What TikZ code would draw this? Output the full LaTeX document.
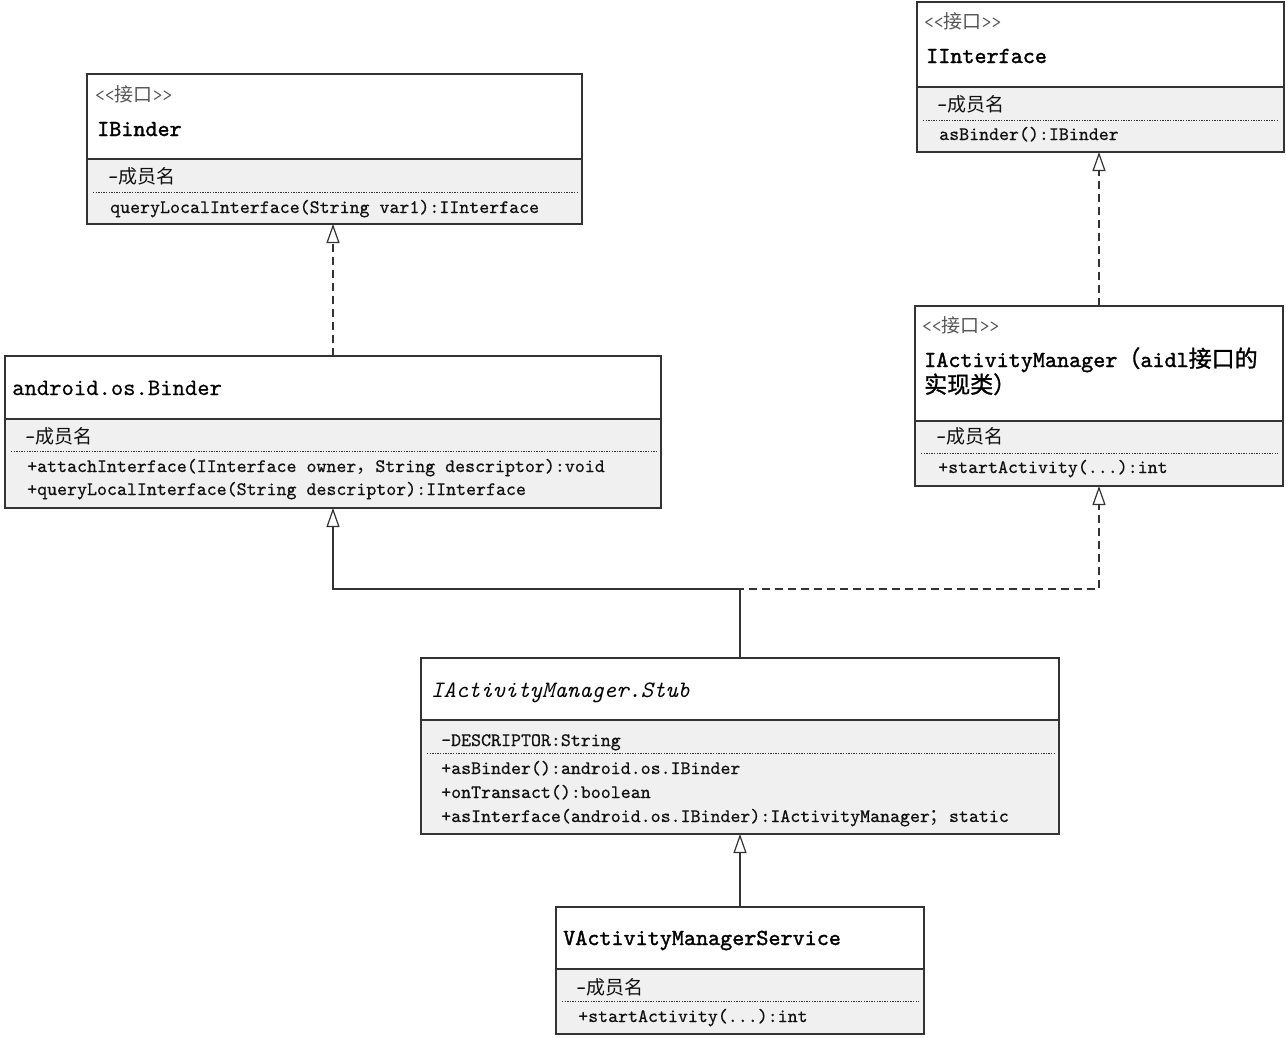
\documentclass[tikz,border=0pt]{standalone}
\usepackage{fontspec}
\usetikzlibrary{arrows.meta}
\newfontfamily\cjk{Noto Sans CJK SC}
\newfontfamily\cjkb{Noto Sans CJK SC}[FakeBold=1.2]
\newfontfamily\ttbold{lmmono10-regular.otf}[FakeBold=1.4]
\newfontfamily\ttmem{lmmono10-regular.otf}[FakeBold=0.5]
\newfontfamily\ttreg{lmmono10-regular.otf}[FakeBold=0.4]
\definecolor{boxgray}{HTML}{F0F0F0}
\definecolor{linecol}{HTML}{333333}
\definecolor{txtcol}{HTML}{111111}
\definecolor{stereo}{HTML}{555555}
\tikzset{
  x=1pt, y=1pt,
  boxnode/.style={fill=boxgray, inner sep=0pt, outer sep=0pt, anchor=north west, draw=none},
  boxline/.style={draw=linecol, line width=1.2pt},
  dotsep/.style={draw=linecol, line width=0.8pt, dash pattern=on 1.4pt off 1.2pt},
  member/.style={anchor=base west, inner sep=0pt, text=txtcol, font=\ttmem\fontsize{19}{22}\selectfont},
  stereotype/.style={anchor=base west, inner sep=0pt, text=stereo, font=\ttfamily\fontsize{19}{22}\selectfont},
  title/.style={anchor=base west, inner sep=0pt, text=black, font=\ttreg\fontsize{23.5}{26}\selectfont},
  btitle/.style={anchor=base west, inner sep=0pt, text=black, font=\ttbold\fontsize{23}{26}\selectfont},
  conn/.style={draw=linecol, line width=1.3pt, -{Triangle[open, length=19pt, width=13pt, line width=1.2pt]}},
  dashconn/.style={conn, dash pattern=on 8pt off 5pt}
}
% name, x, y, w, h, header height, dotted offset
\newcommand\umlbox[7]{%
  \node[boxnode, minimum width=#4pt, minimum height=#5pt] (#1) at (#2,-#3) {};
  \fill[white] (#1.north west) rectangle ([yshift=-#6pt]#1.north east);
  \draw[boxline] ([yshift=-#6pt]#1.north west) -- ([yshift=-#6pt]#1.north east);
  \draw[dotsep] ([xshift=6pt,yshift=-#7pt]#1.north west) -- ([xshift=-5pt,yshift=-#7pt]#1.north east);
  \draw[boxline] (#1.north west) rectangle (#1.south east);
}
\begin{document}
\begin{tikzpicture}
\useasboundingbox[fill=white] (0,0) rectangle (1286,-1037);

% IBinder
\umlbox{ibinder}{87}{74}{495}{150}{85}{118}
\node[stereotype] (ibst) at (95,-101) {<<{\cjk 接口}>>};
\node[btitle] (ibt) at (97,-136) {IBinder};
\node[member] (ibm1) at (108,-183) {-{\cjk 成员名}};
\node[member] (ibm2) at (110,-213) {queryLocalInterface(String var1):IInterface};

% IInterface
\umlbox{iinterface}{917}{2}{367}{150}{85}{118}
\node[stereotype] (iist) at (924,-28) {<<{\cjk 接口}>>};
\node[btitle] (iit) at (926,-63) {IInterface};
\node[member] (iim1) at (937,-111) {-{\cjk 成员名}};
\node[member] (iim2) at (939,-140) {asBinder():IBinder};

% android.os.Binder
\umlbox{binder}{5}{356}{656}{152}{63}{95}
\node[title] (bt) at (12,-395) {android.os.Binder};
\node[member] (bm1) at (25,-443) {-{\cjk 成员名}};
\node[member] (bm2) at (27,-472) {+attachInterface(IInterface owner{\cjk ，}String descriptor):void};
\node[member] (bm3) at (27,-495) {+queryLocalInterface(String descriptor):IInterface};

% IActivityManager
\umlbox{iam}{915}{306}{368}{180}{115}{147}
\node[stereotype] (iamst) at (922,-332) {<<{\cjk 接口}>>};
\node[btitle] (iamt1) at (924,-367) {IActivityManager{\cjkb （}aidl{\cjkb 接口的}};
\node[btitle] (iamt2) at (924,-393) {{\cjkb 实现类）}};
\node[member] (iamm1) at (936,-443) {-{\cjk 成员名}};
\node[member] (iamm2) at (938,-473) {+startActivity(...):int};

% IActivityManager.Stub
\umlbox{stub}{421}{658}{638}{176}{62}{95}
\node[title, font=\ttfamily\itshape\fontsize{23.5}{26}\selectfont] (stt) at (431,-697) {IActivityManager.Stub};
\node[member] (stm1) at (441,-746) {-DESCRIPTOR:String};
\node[member] (stm2) at (441,-774) {+asBinder():android.os.IBinder};
\node[member] (stm3) at (441,-798) {+onTransact():boolean};
\node[member] (stm4) at (441,-822) {+asInterface(android.os.IBinder):IActivityManager{\cjk ；}static};

% VActivityManagerService
\umlbox{vams}{556}{907}{368}{127}{62}{94}
\node[btitle] (vt) at (563,-945) {VActivityManagerService};
\node[member] (vm1) at (576,-994) {-{\cjk 成员名}};
\node[member] (vm2) at (578,-1022) {+startActivity(...):int};

% connectors
\coordinate (junc) at (740,-589);
\draw[dashconn] (binder.north) -- (binder.north |- ibinder.south);
\draw[dashconn] (iam.north) -- (iam.north |- iinterface.south);
\draw[conn] (stub.north) -- (junc) -| (binder.south);
\draw[dashconn] (stub.north) -- (junc) -| (iam.south);
\draw[conn] (vams.north) -- (stub.south);
\end{tikzpicture}
\end{document}
